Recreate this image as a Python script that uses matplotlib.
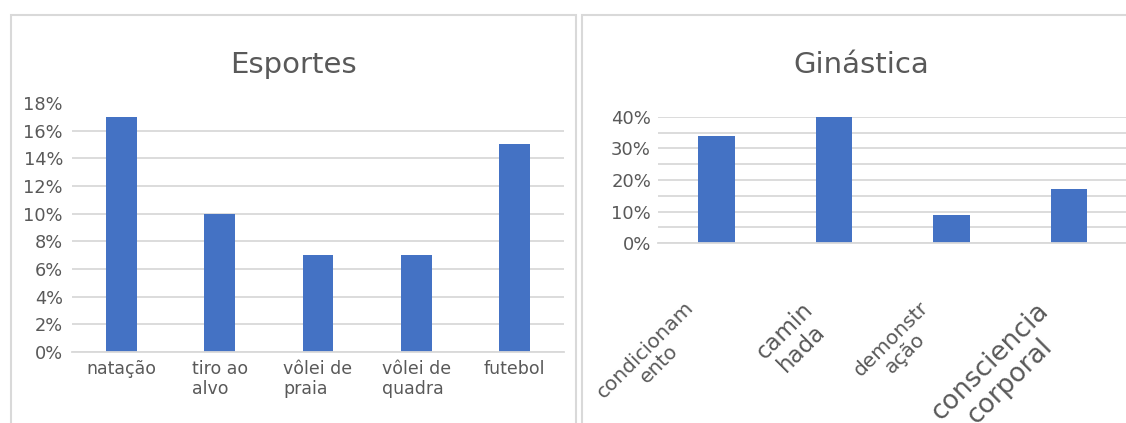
import numpy as np
import matplotlib
matplotlib.use('Agg')
from matplotlib import pyplot as plt
from matplotlib import transforms
from matplotlib.patches import Rectangle

# data
esportes_labels = ['natação', 'tiro ao\nalvo', 'vôlei de\npraia', 'vôlei de\nquadra', 'futebol']
esportes_values = [0.17, 0.10, 0.07, 0.07, 0.15]

ginastica_labels = ['condicionam\nento', 'camin\nhada', 'demonstr\nação', 'consciencia\ncorporal']
ginastica_values = [0.34, 0.40, 0.09, 0.17]
ginastica_label_sizes = [14.5, 16.5, 14.5, 19]

BAR = '#4472c4'
GRID = '#d9d9d9'
TEXT = '#595959'

plt.rcParams['font.family'] = ['DejaVu Sans']

W, H = 1126, 423
fig = plt.figure(figsize=(W / 100, H / 100), dpi=100)


def px_box(x0, y0, x1, y1):
    # pixel box (top-left origin) -> figure fraction rect
    return [x0 / W, 1 - y1 / H, (x1 - x0) / W, (y1 - y0) / H]


def style(ax):
    for s in ['top', 'right', 'left']:
        ax.spines[s].set_visible(False)
    ax.spines['bottom'].set_color(GRID)
    ax.spines['bottom'].set_linewidth(1.3)
    ax.grid(axis='y', color=GRID, linewidth=1.3)
    ax.set_axisbelow(True)
    ax.tick_params(length=0, colors=TEXT)


# chart borders
fig.patches.append(Rectangle((11 / W, -0.1), (576 - 11) / W, 1.1 - 15.5 / H,
                             transform=fig.transFigure, fill=False,
                             edgecolor=GRID, linewidth=1.5))
fig.patches.append(Rectangle((582 / W, -0.1), 0.6, 1.1 - 15 / H,
                             transform=fig.transFigure, fill=False,
                             edgecolor=GRID, linewidth=1.5))

# left chart: Esportes
ax1 = fig.add_axes(px_box(72, 103, 564, 352))
x1 = np.arange(len(esportes_values))
ax1.bar(x1, esportes_values, width=0.315, color=BAR, zorder=2)
ax1.set_xlim(-0.5, len(esportes_values) - 0.5)
ax1.set_ylim(0, 0.18)
ax1.set_yticks(np.arange(0, 0.181, 0.02))
ax1.set_yticklabels([f'{round(v * 100)}%' for v in np.arange(0, 0.181, 0.02)], fontsize=12.8)
ax1.set_xticks(x1)
ax1.set_xticklabels(esportes_labels, fontsize=12.5, multialignment='left', linespacing=1.1)
style(ax1)
ax1.tick_params(axis='y', pad=6.5)
ax1.tick_params(axis='x', pad=6)
# top gridline is not shown
ax1.get_ygridlines()[-1].set_visible(False)
fig.text(293 / W, 1 - 65 / H, 'Esportes', fontsize=21, color=TEXT, ha='center', va='center')

# right chart: Ginástica
ax2 = fig.add_axes(px_box(658, 116.7, 1127.5, 243.3))
x2 = np.arange(len(ginastica_values))
ax2.bar(x2, ginastica_values, width=0.31, color=BAR, zorder=2)
ax2.set_xlim(-0.5, len(ginastica_values) - 0.5)
ax2.set_ylim(0, 0.40)
ax2.set_yticks(np.arange(0, 0.401, 0.05))
ax2.set_yticklabels([f'{round(v * 100)}%' if round(v * 100) % 10 == 0 else ''
                     for v in np.arange(0, 0.401, 0.05)], fontsize=13)
ax2.set_xticks(x2)
ax2.set_xticklabels([])
style(ax2)
ax2.tick_params(axis='y', pad=5)
fig.text(861 / W, 1 - 65 / H, 'Ginástica', fontsize=21, color=TEXT, ha='center', va='center')

trans = transforms.blended_transform_factory(ax2.transData, ax2.transAxes)
trans = transforms.offset_copy(trans, fig=fig, x=-33, y=0, units='dots')
y_lab = -(298 - 243.3) / (243.3 - 116.7)
for xi, lab, fs in zip(x2, ginastica_labels, ginastica_label_sizes):
    ax2.text(xi, y_lab, lab, transform=trans, rotation=45, rotation_mode='anchor',
             ha='right', va='top', multialignment='center', fontsize=fs,
             color=TEXT, linespacing=1.05)

fig.savefig('out.png', dpi=100)
